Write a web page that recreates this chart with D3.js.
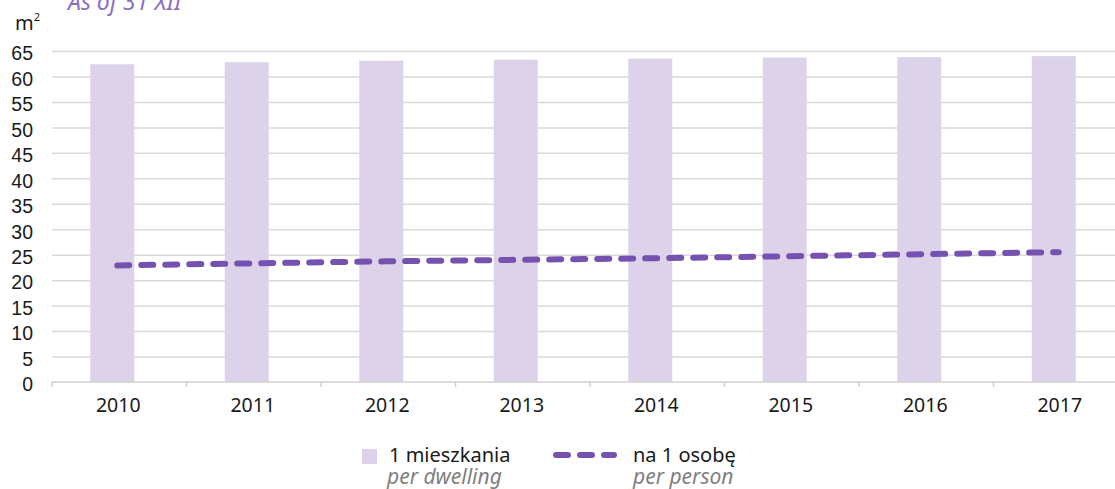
<!DOCTYPE html>
<html>
  <head>
    <script src="https://cdn.jsdelivr.net/npm/d3@7"></script>
    <style>
      body { margin: 0; background: #fff; }
      svg { font-family: "Noto Sans", sans-serif; }
      .grid line { stroke: #d9d9d9; stroke-width: 1.5px; }
      .grid .domain { display: none; }
      .yaxis text, .xaxis text { font-size: 19.5px; fill: #1a1a1a; }
      .yaxis .domain, .yaxis line { display: none; }
      .lgtext { font-size: 20px; fill: #1a1a1a; }
      .lgsub { font-size: 21px; font-style: italic; fill: #7f7f7f; }
    </style>
  </head>
  <body>
    <svg width="1115" height="489"></svg>
    <script>
      const years = ["2010", "2011", "2012", "2013", "2014", "2015", "2016", "2017"];
      const perDwelling = [62.4, 62.8, 63.1, 63.3, 63.5, 63.7, 63.8, 64.0];
      const perPerson = [22.9, 23.3, 23.7, 24.0, 24.3, 24.7, 25.1, 25.5];
      const yTicks = [0, 5, 10, 15, 20, 25, 30, 35, 40, 45, 50, 55, 60, 65];

      const svg = d3.select("svg");
      const plotLeft = 52, plotRight = 1128, plotTop = 51, plotBottom = 382;

      const x = d3.scaleBand().domain(years).range([plotLeft, plotRight]);
      const y = d3.scaleLinear().domain([0, 65]).range([plotBottom, plotTop]);

      svg.append("g")
          .attr("class", "grid")
          .attr("transform", `translate(${plotLeft},0)`)
          .call(d3.axisRight(y).tickValues(yTicks.slice(1)).tickSize(1115 - plotLeft).tickFormat(""));

      svg.append("g")
          .attr("class", "yaxis")
          .attr("transform", `translate(33,0)`)
          .call(d3.axisLeft(y).tickValues(yTicks).tickSize(0).tickPadding(0))
          .selectAll("text").attr("dy", "0.45em");

      // bars, sitting a bit left of the band centre as in the source
      const barW = 44;
      svg.append("g").selectAll("rect")
        .data(years)
        .join("rect")
          .attr("x", (d) => x(d) + x.bandwidth() / 2 - 29)
          .attr("width", barW)
          .attr("y", (d, i) => y(perDwelling[i]))
          .attr("height", (d, i) => y(0) - y(perDwelling[i]))
          .attr("fill", "#dcd3ea");

      // x axis with ticks at band edges
      const xAxisG = svg.append("g")
          .attr("class", "xaxis")
          .attr("transform", `translate(0,${plotBottom})`);
      xAxisG.append("line")
          .attr("x1", plotLeft).attr("x2", 1115)
          .attr("stroke", "#d0d0d0").attr("stroke-width", 1.5);
      xAxisG.selectAll(".tk")
        .data(years)
        .join("line")
          .attr("class", "tk")
          .attr("x1", (d) => x(d)).attr("x2", (d) => x(d))
          .attr("y1", 0).attr("y2", 5)
          .attr("stroke", "#d0d0d0").attr("stroke-width", 1.5);
      xAxisG.selectAll("text")
        .data(years)
        .join("text")
          .attr("x", (d) => x(d) + x.bandwidth() / 2 - 1)
          .attr("y", 30)
          .attr("text-anchor", "middle")
          .text((d) => d);

      const line = d3.line()
          .x((d, i) => x(years[i]) + x.bandwidth() / 2 - 2)
          .y((d) => y(d));
      svg.append("path")
          .datum(perPerson)
          .attr("d", line)
          .attr("fill", "none")
          .attr("stroke", "#7652b0")
          .attr("stroke-width", 6)
          .attr("stroke-linecap", "round")
          .attr("stroke-dasharray", "12,12");

      // titles
      svg.append("text")
          .attr("x", 68).attr("y", 10)
          .attr("font-size", 23).attr("font-style", "italic")
          .attr("fill", "#8b6fc2")
          .text("As of 31 XII");
      const unit = svg.append("text")
          .attr("x", 15).attr("y", 30)
          .attr("font-size", 20).attr("fill", "#1a1a1a")
          .text("m");
      unit.append("tspan").attr("font-size", 11).attr("dy", -9).text("2");

      // legend
      const lg = svg.append("g");
      lg.append("rect")
          .attr("x", 362).attr("y", 449).attr("width", 15).attr("height", 15)
          .attr("fill", "#dcd3ea");
      lg.append("text").attr("class", "lgtext").attr("x", 389).attr("y", 462).text("1 mieszkania");
      lg.append("text").attr("class", "lgsub").attr("x", 387).attr("y", 484).text("per dwelling");
      lg.append("line")
          .attr("x1", 556).attr("x2", 614).attr("y1", 455).attr("y2", 455)
          .attr("stroke", "#7652b0").attr("stroke-width", 6)
          .attr("stroke-linecap", "round").attr("stroke-dasharray", "12,12");
      lg.append("text").attr("class", "lgtext").attr("x", 633).attr("y", 462).text("na 1 osobę");
      lg.append("text").attr("class", "lgsub").attr("x", 633).attr("y", 484).text("per person");
    </script>
  </body>
</html>
